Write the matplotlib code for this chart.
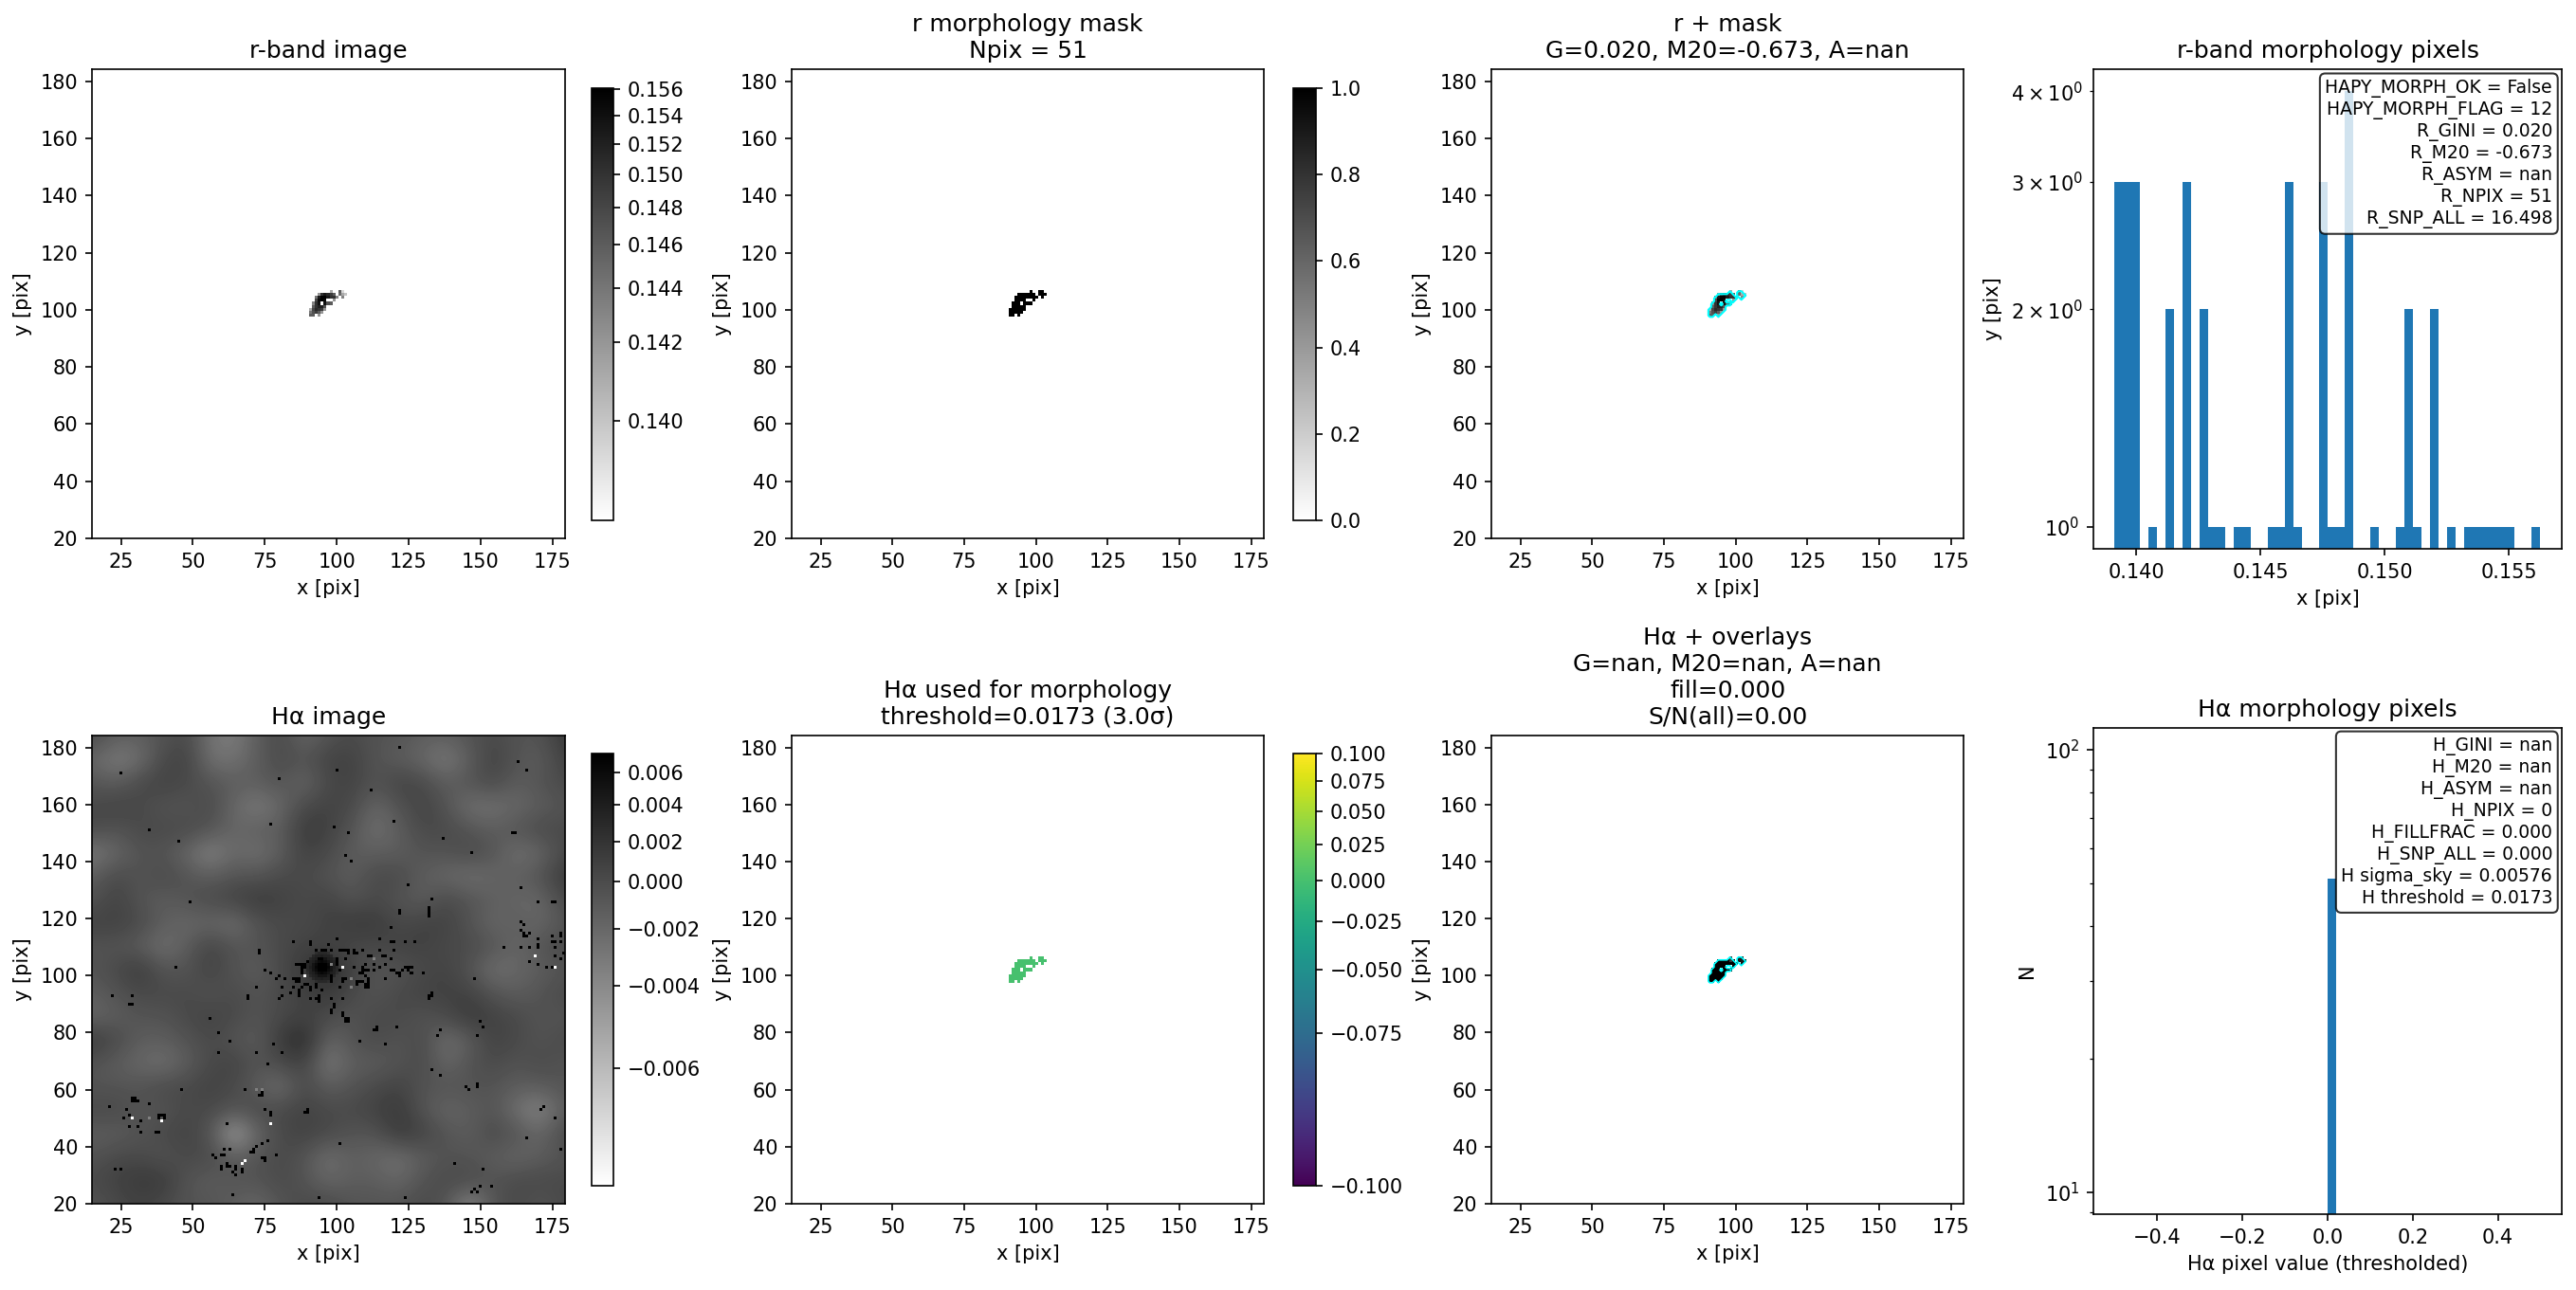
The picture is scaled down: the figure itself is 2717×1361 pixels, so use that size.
import numpy as np
import matplotlib
matplotlib.use("Agg")
import matplotlib.pyplot as plt
from matplotlib.colors import PowerNorm, Normalize

n = np.nan
W, H, DPI = 2717, 1361, 150

# r-band pixels inside the morphology mask, rows top (y=106) to bottom (y=98), columns x=91..103
R_Y_TOP = 106
R_X_LEFT = 91
R_PIXELS = [
    [n, n, n, n, n, n, n, .141, n, n, .146, .1395, n],
    [n, n, n, .142, .150, .153, .151, .149, .146, n, .145, .141, .140],
    [n, n, .144, .153, .156, .156, .153, .150, .150, .143, n, .143, n],
    [n, n, .148, .155, .156, .155, n, n, .142, n, n, n, n],
    [n, .143, .150, .154, n, .154, .147, .146, n, n, n, n, n],
    [n, .146, .150, .152, .152, .147, n, n, n, n, n, n, n],
    [.141, .148, .151, .150, .149, .142, n, n, n, n, n, n, n],
    [.144, .147, .149, .146, .142, n, n, n, n, n, n, n, n],
    [.146, .146, n, .142, n, n, n, n, n, n, n, n, n],
]
# H-alpha values of those pixels (x 1e-3)
HA_PIXELS = [
    [n, n, n, n, n, n, n, 2.0, n, n, 5.0, 4.0, n],
    [n, n, n, 7.5, 7.5, 7.5, 7.5, 1.5, 6.0, n, 5.0, 4.5, 6.0],
    [n, n, 7.5, 7.5, 7.5, 7.5, 7.5, 7.0, 7.5, 7.5, n, 5.5, n],
    [n, n, 7.5, 7.5, 7.5, 7.5, n, n, 7.0, n, n, n, n],
    [n, 7.5, 7.5, 7.5, n, 7.5, 7.5, 7.5, n, n, n, n, n],
    [n, 7.5, 7.5, 7.5, 7.5, 7.5, n, n, n, n, n, n, n],
    [7.5, 7.5, 7.5, 7.5, 7.5, 7.5, n, n, n, n, n, n, n],
    [7.5, 7.5, 7.5, 7.5, 7.5, n, n, n, n, n, n, n, n],
    [7.5, 7.5, n, 7.5, n, n, n, n, n, n, n, n, n],
]
R_MORPH_ZERO = 0.0

# r-band histogram
R_HIST_LO, R_HIST_HI = 0.1391, 0.15626
R_HIST_COUNTS = [3, 3, 3, 0, 1, 0, 2, 0, 3, 0, 2, 1, 1, 0, 1, 1, 0, 0, 1, 1, 3, 1, 0, 0, 3, 1, 1, 4, 0, 0,
                 1, 0, 0, 1, 2, 1, 0, 2, 0, 1, 0, 1, 1, 1, 1, 1, 1, 0, 0, 1]
HA_HIST_VALUES = [0.0] * 51

# smooth H-alpha sky (x 1e-3), rows y=184 down to y=20, 21 columns x=15..179
HA_SKY = [
    [.2, -1.3, -1.3, -.6, .2, -2.7, -3.4, -1.3, .2, -2, -.6, .2, -.6, -.6, -1.3, -1.3, -.6, .2, -.6, -.6, 1.5],
    [-2, -3.4, -2.7, .2, .8, -2.7, -2.7, -1.3, .2, -.6, .8, .8, -.6, -1.3, -2, -3.4, -1.3, .8, -.6, -1.3, .8],
    [-.6, -1.3, .2, .8, .2, -.6, -1.3, -1.3, -.6, -2, .2, .8, -.6, .8, .2, -1.3, -.6, .2, -1.3, -.6, .2],
    [.2, .8, .2, -.6, -.6, .2, -2, -3.4, -2, .2, .8, .2, -2, -.6, .8, -.6, -2.7, -2.7, -2, -1.3, -.6],
    [.2, -.6, .2, .2, .2, -.6, -2, -1.3, -1.3, 1.5, .8, -.6, -2.7, -1.3, .2, .2, -.6, -1.3, -.6, .2, .2],
    [-3.4, -2, -.6, -.6, -2, -4, -2, -2.7, -1.3, .8, .2, -1.3, -1.3, -1.3, -.6, -.6, .2, -.6, -2.7, -2, .2],
    [-1.3, .2, -.6, .2, -.6, -1.3, -.6, -.6, .2, .2, -.6, -1.3, .2, .2, -1.3, -2, -2.7, -2, -1.3, -.6, 1.5],
    [-.6, .8, -.6, -1.3, -.6, .2, .8, 1.5, .8, .2, .8, -.6, .2, -.6, -1.3, .2, -.6, -1.3, -2, -2, .2],
    [.8, .8, .2, -1.3, -2, -2, -2.7, -.6, .2, .2, .8, 1.5, 1.5, .2, .8, .8, -.6, -2, -1.3, -2, -.6],
    [-.6, -.6, -1.3, -2.7, -1.3, .8, -.6, -.6, .2, .8, .8, .2, .2, .8, .8, .2, .2, -.6, -2, -.6, .2],
    [-.6, .2, 1.5, -.6, -.6, .8, -.6, -1.3, .2, 1.5, 3, .8, -.6, -.6, .2, .8, -.6, -2.7, -2, -1.3, -.6],
    [-1.3, -.6, .2, .2, .2, -.6, .2, -.6, .2, .8, 1.5, .2, -.6, .2, .8, .8, .8, -.6, -1.3, -.6, .2],
    [-2, -1.3, -.6, -.6, .2, .8, .2, -.6, .2, .8, .2, -.6, .2, .2, -.6, .2, 1.5, .8, .2, -.6, -.6],
    [1.5, .2, -1.3, -1.3, -.6, .2, -.6, -1.3, 1.5, 3, -2, -.6, .2, -.6, .2, -2.7, -1.3, .8, .2, -.6, .2],
    [-.6, -1.3, -2, -2.7, -1.3, .2, .8, -.6, .2, .8, -3.4, -1.3, -1.3, -.6, .2, -2, -.6, .2, -.6, .2, -.6],
    [-.6, -.6, -.6, .2, .2, .8, .2, -1.3, -2.7, .2, -1.3, -.6, .2, .8, -.6, -.6, -.6, -.6, -1.3, -1.3, -.6],
    [.2, .2, -.6, -.6, .2, .2, -.6, .2, .2, .8, .2, .2, .8, 1.5, -.6, -2, -1.3, -.6, -2.7, -4, -1.3],
    [-1.3, -1.3, -.6, .2, .8, -.6, -6, -2, .2, .8, .2, -.6, -.6, 1.5, .8, -.6, -1.3, .2, -.6, -2, .2],
    [-.6, .2, .2, -.6, .2, .2, -1.3, -.6, .2, -.6, -2.7, -1.3, -2, -2.7, -1.3, -.6, -.6, -1.3, -2, -1.3, -.6],
    [.2, .8, 1.5, 1.5, -.6, -1.3, -.6, -.6, .2, -.6, -2, -1.3, -1.3, -2, -.6, .2, .2, -.6, .2, .2, .2],
    [-.6, .2, .8, .2, -.6, -.6, -1.3, -2, -.6, .2, .2, -.6, -.6, -.6, .2, -.6, -4.5, -.6, .2, -.6, .2],
]
# dark core (x 1e-3), rows y=108..98, columns x=90..100
HA_CORE = [
    [n, n, n, 2.5, 3, 3, 3, 2.5, n, n, n],
    [n, n, 3, 3.5, 3.5, 4, 3.5, 3.5, 3, n, n],
    [n, 3, 3.5, 4, 5, 5, 5, 4, 3.5, 3, n],
    [2.5, 3.5, 4, 5, 6, 6.5, 6, 5, 4, 3.5, 2.5],
    [3, 3.5, 5, 6, 7, 7.5, 7, 6, 5, 3.5, 3],
    [3, 4, 5, 6.5, 7.5, 7.5, 7.5, 6.5, 5, 4, 3],
    [3, 3.5, 5, 6, 7, 7.5, 7, 6, 5, 3.5, 3],
    [2.5, 3.5, 4, 5, 6, 6.5, 6, 5, 4, 3.5, 2.5],
    [n, 3, 3.5, 4, 5, 5, 5, 4, 3.5, 3, n],
    [n, n, 3, 3.5, 3.5, 4, 3.5, 3.5, 3, n, n],
    [n, n, n, 2.5, 3, 3, 3, 2.5, n, n, n],
]
HA_HOT_X = [122,132,132,119,100,115,120,119,124,127,85,91,91,97,93,95,96,98,101,102,103,104,104,106,106,107,109,115,120,73,
            111,112,116,117,103,119,90,94,95,100,100,110,117,86,87,88,89,88,89,100,106,109,113,113,115,109,110,111,119,120,
            123,124,125,126,125,121,122,122,126,130,75,77,88,88,101,108,109,110,111,117,80,79,82,85,86,87,86,87,98,98,98,
            102,103,102,93,93,107,108,109,111,107,110,111,111,110,90,88,89,72,91,91,85,81,101,95,87,87,87,84,69,69,81,80,
            91,93,94,94,94,98,102,133,132,99,99,98,102,103,104,114,113,121,136,135,108,
            25,122,80,100,163,166,112,35,45,77,99,104,120,103,105,137,147,162,161,125,164,133,132,132,170,175,176,49,122,
            164,165,164,165,167,166,170,165,175,175,178,178,176,178,158,164,167,170,170,176,167,170,173,175,176,178,179,148,
            133,132,44,73,22,29,28,29,56,103,104,98,102,150,151,149,114,113,121,108,117,136,135,59,63,78,59,72,81,76,133,136,
            145,146,149,149,46,68,74,73,74,29,30,29,31,30,35,21,27,28,38,39,40,38,40,26,32,31,28,32,37,38,90,89,90,75,77,62,77,
            171,172,176,166,76,74,72,71,70,71,101,178,61,61,60,57,58,79,74,75,75,63,141,151,23,25,60,60,62,62,63,65,65,67,67,65,64,
            147,149,148,150,154,64,94,124]
HA_HOT_Y = [122,123,121,117,113,113,112,112,112,112,112,112,111,111,109,109,109,109,109,109,109,109,108,109,108,108,109,109,109,108,
            107,107,107,107,106,106,105,106,106,106,105,104,104,104,104,104,104,103,103,104,103,103,104,102,103,102,102,102,102,102,
            102,103,103,103,102,101,101,100,101,101,102,101,102,101,102,101,101,100,99,99,100,99,99,99,99,99,98,98,100,99,98,
            99,99,98,97,96,98,98,98,98,97,97,97,96,96,97,96,97,96,96,95,96,96,96,95,95,94,93,94,93,92,93,92,
            92,92,93,92,91,92,92,93,92,90,89,87,86,84,84,81,81,82,81,79,77,
            171,180,169,172,175,172,165,151,147,153,152,150,154,142,140,148,143,150,150,132,131,127,124,122,126,126,126,126,123,
            119,118,116,115,115,114,113,114,114,112,115,114,112,112,110,110,110,110,111,110,105,104,103,103,107,106,108,99,
            94,93,103,109,93,93,90,90,85,85,85,88,87,84,82,79,82,81,82,77,76,81,79,80,77,76,73,73,73,69,67,65,
            61,60,62,61,60,60,59,58,58,57,57,56,56,56,55,54,53,51,51,51,51,50,50,50,49,47,47,45,45,45,52,52,53,53,52,48,51,
            53,54,50,43,42,41,40,39,38,38,41,39,39,37,37,37,36,37,36,36,35,39,34,32,32,32,33,32,34,33,33,33,32,32,31,30,31,
            24,24,25,26,26,23,22,22]
HA_COLD_X = [89, 102, 169, 176, 29, 39, 77, 68, 67]
HA_COLD_Y = [100, 103, 107, 103, 50, 49, 48, 35, 34]
HA_DIM_X = [98, 105, 105, 113, 35, 72, 74]
HA_DIM_Y = [104, 99, 96, 106, 50, 60, 60]

XT = [25, 50, 75, 100, 125, 150, 175]
YT = [20, 40, 60, 80, 100, 120, 140, 160, 180]
XLIM = (14.9, 179.4)
YLIM = (20, 184.2)

fig = plt.figure(figsize=(W / DPI, H / DPI), dpi=DPI)


def axpx(l, t, r, b):
    return fig.add_axes([l / W, 1 - b / H, (r - l) / W, (b - t) / H])


COLS = [(97, 596), (835, 1333), (1573, 2071)]
ROWS = [(73, 568), (776, 1270)]
CB_X = [(624, 647), (1364, 1388)]
CB_Y = [(93, 549), (795, 1251)]
HIST_X = (2208, 2702)
HIST_Y = [(73, 579), (768, 1281)]

r_norm = PowerNorm(0.5, vmin=0.1391, vmax=0.1561)
ha_norm = PowerNorm(0.5, vmin=-0.00705, vmax=0.0072)
morph_norm = PowerNorm(0.5, vmin=-0.1, vmax=0.1)
mask_norm = Normalize(0, 1)

R = np.array(R_PIXELS)
HAP = np.array(HA_PIXELS) * 1e-3
rows_n, cols_n = R.shape
mask_bool = ~np.isnan(R)
ext_r = (R_X_LEFT - .5, R_X_LEFT + cols_n - .5, R_Y_TOP - rows_n + .5, R_Y_TOP + .5)

# padded mask for the contour overlays
pad = np.zeros((rows_n + 2, cols_n + 2))
pad[1:-1, 1:-1] = mask_bool.astype(float)
xc = np.arange(R_X_LEFT - 1, R_X_LEFT + cols_n + 1)
yc = np.arange(R_Y_TOP + 1, R_Y_TOP - rows_n - 1, -1)


def img_ax(col, row, title):
    ax = axpx(COLS[col][0], ROWS[row][0], COLS[col][1], ROWS[row][1])
    ax.set_title(title)
    ax.set_xlabel("x [pix]")
    ax.set_ylabel("y [pix]")
    return ax


def finish(ax):
    ax.set_xlim(*XLIM)
    ax.set_ylim(*YLIM)
    ax.set_xticks(XT)
    ax.set_yticks(YT)


def cbar(im, col, row, ticks):
    c = axpx(CB_X[col][0], CB_Y[row][0], CB_X[col][1], CB_Y[row][1])
    fig.colorbar(im, cax=c, ticks=ticks)


# r image
ax = img_ax(0, 0, "r-band image")
im = ax.imshow(R, cmap="gray_r", norm=r_norm, extent=ext_r, aspect="auto", interpolation="nearest")
finish(ax)
cbar(im, 0, 0, [.140, .142, .144, .146, .148, .150, .152, .154, .156])

# mask
ax = img_ax(1, 0, "r morphology mask\nNpix = 51")
im = ax.imshow(np.ma.masked_invalid(np.where(mask_bool, 1.0, n)), cmap="gray_r", norm=mask_norm,
               extent=ext_r, aspect="auto", interpolation="nearest")
finish(ax)
cbar(im, 1, 0, [0, .2, .4, .6, .8, 1.0])

# overlay
ax = img_ax(2, 0, "r + mask\nG=0.020, M20=-0.673, A=nan")
ax.imshow(R, cmap="gray_r", norm=r_norm, extent=ext_r, aspect="auto", interpolation="nearest")
ax.contour(xc, yc, pad, levels=[.5], colors="cyan", linewidths=1.0)
finish(ax)

# r histogram
ax = axpx(HIST_X[0], HIST_Y[0][0], HIST_X[1], HIST_Y[0][1])
edges = np.linspace(R_HIST_LO, R_HIST_HI, len(R_HIST_COUNTS) + 1)
ax.hist(.5 * (edges[:-1] + edges[1:]), bins=edges, weights=R_HIST_COUNTS, log=True, color="C0")
ax.set_xlim(0.13827, 0.15712)
ax.set_ylim(0.933, 4.29)
ax.set_xticks([.140, .145, .150, .155])
ax.set_title("r-band morphology pixels")
ax.set_xlabel("x [pix]")
ax.set_ylabel("y [pix]")
box = dict(boxstyle="round", fc="white", alpha=0.8)
ax.text(.98, .98, "HAPY_MORPH_OK = False\nHAPY_MORPH_FLAG = 12\nR_GINI = 0.020\nR_M20 = -0.673\nR_ASYM = nan\n"
        "R_NPIX = 51\nR_SNP_ALL = 16.498", transform=ax.transAxes, ha="right", va="top", fontsize=9, bbox=box)

# H-alpha image
ax = img_ax(0, 1, "Hα image")
sky = np.array(HA_SKY) * 1e-3
step = (179 - 15) / 20
im = ax.imshow(sky, cmap="gray_r", norm=ha_norm, aspect="auto", interpolation="bicubic",
               extent=(15 - step / 2, 179 + step / 2, 20 - step / 2, 184 + step / 2))
over = np.full((165, 165), n)
over[np.array(HA_HOT_Y) - 20, np.array(HA_HOT_X) - 15] = 0.02
over[np.array(HA_COLD_Y) - 20, np.array(HA_COLD_X) - 15] = -0.02
over[np.array(HA_DIM_Y) - 20, np.array(HA_DIM_X) - 15] = -0.0035
core = np.array(HA_CORE) * 1e-3
over_core = np.full((165, 165), n)
over_core[98 - 20:109 - 20, 90 - 15:101 - 15] = core[::-1]
ax.imshow(over_core, cmap="gray_r", norm=ha_norm, origin="lower", aspect="auto", interpolation="nearest",
          extent=(14.5, 179.5, 19.5, 184.5))
ax.imshow(over, cmap="gray_r", norm=ha_norm, origin="lower", aspect="auto", interpolation="nearest",
          extent=(14.5, 179.5, 19.5, 184.5))
finish(ax)
cbar(im, 0, 1, [-.006, -.004, -.002, 0, .002, .004, .006])

# H-alpha morphology
ax = img_ax(1, 1, "Hα used for morphology\nthreshold=0.0173 (3.0σ)")
im = ax.imshow(np.where(mask_bool, R_MORPH_ZERO, n), cmap="viridis", norm=morph_norm, extent=ext_r,
               aspect="auto", interpolation="nearest")
finish(ax)
cbar(im, 1, 1, [-.1, -.075, -.05, -.025, 0, .025, .05, .075, .1])

# H-alpha overlay
ax = img_ax(2, 1, "Hα + overlays\nG=nan, M20=nan, A=nan\nfill=0.000\nS/N(all)=0.00")
ax.imshow(HAP, cmap="gray_r", norm=ha_norm, extent=ext_r, aspect="auto", interpolation="nearest")
ax.contour(xc, yc, pad, levels=[.5], colors="cyan", linewidths=0.8)
finish(ax)

# H-alpha histogram
ax = axpx(HIST_X[0], HIST_Y[1][0], HIST_X[1], HIST_Y[1][1])
ax.hist(HA_HIST_VALUES, bins=50, log=True, color="C0")
ax.set_xlim(-.55, .55)
ax.set_ylim(8.92, 112)
ax.set_xticks([-.4, -.2, 0, .2, .4])
ax.set_title("Hα morphology pixels")
ax.set_xlabel("Hα pixel value (thresholded)")
ax.set_ylabel("N")
ax.text(.98, .98, "H_GINI = nan\nH_M20 = nan\nH_ASYM = nan\nH_NPIX = 0\nH_FILLFRAC = 0.000\nH_SNP_ALL = 0.000\n"
        "H sigma_sky = 0.00576\nH threshold = 0.0173", transform=ax.transAxes, ha="right", va="top",
        fontsize=9, bbox=box)

fig.savefig("out.png", dpi=DPI)
